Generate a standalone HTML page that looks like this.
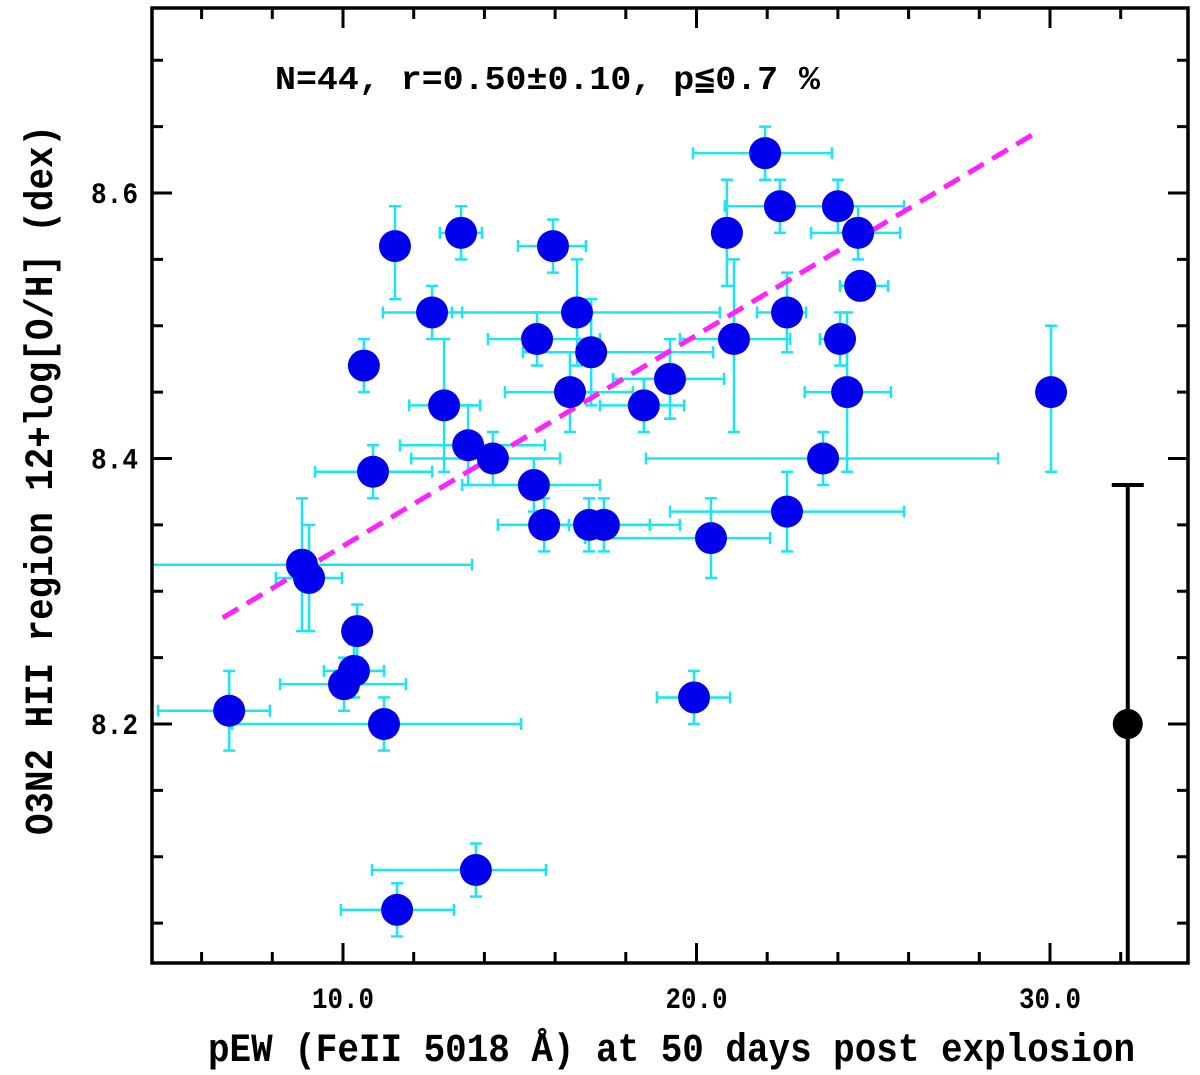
<!DOCTYPE html>
<html><head><meta charset="utf-8"><style>
html,body{margin:0;padding:0;background:#fff;}
svg text{font-family:"Liberation Mono","DejaVu Sans Mono",monospace;font-weight:bold;fill:#000;}
</style></head><body>
<svg id="chart" width="1200" height="1070" viewBox="0 0 1200 1070" xmlns="http://www.w3.org/2000/svg">
<g id="errs"></g>
<g id="pts"></g>
<g id="axes"></g>
<text x="275" y="89" font-size="33" textLength="545" lengthAdjust="spacingAndGlyphs">N=44, r=0.50±0.10, p≦0.7 %</text>
<text x="208" y="1061" font-size="40" textLength="927" lengthAdjust="spacingAndGlyphs">pEW (FeII 5018 Å) at 50 days post explosion</text>
<text transform="translate(52,835) rotate(-90)" font-size="40" textLength="710" lengthAdjust="spacingAndGlyphs">O3N2 HII region 12+log[O/H] (dex)</text>
</svg>
<script>
const xVals=[6.78,11.16,10.03,10.31,10.40,8.84,9.04,10.85,10.59,11.47,12.52,12.86,13.54,14.24,13.34,11.53,13.76,15.40,15.69,16.96,17.38,15.94,15.49,16.62,16.42,17.02,18.51,19.25,19.93,20.41,20.86,21.06,21.94,22.36,22.56,22.56,23.58,24.00,24.06,24.26,24.57,24.63,30.03];
const yVals=[8.21,8.20,8.23,8.24,8.27,8.32,8.31,8.39,8.47,8.56,8.51,8.44,8.41,8.40,8.57,8.06,8.09,8.38,8.35,8.35,8.35,8.56,8.49,8.51,8.45,8.48,8.44,8.46,8.22,8.34,8.57,8.49,8.63,8.59,8.51,8.36,8.40,8.59,8.49,8.45,8.57,8.53,8.45];
const xLo=[4.77,6.86,8.22,9.46,10.40,4.60,8.10,9.21,10.31,11.47,11.13,11.87,11.61,11.93,12.74,9.94,10.82,13.37,14.38,15.57,16.39,14.95,14.10,13.08,14.58,15.09,17.27,17.64,18.88,16.85,20.61,19.53,19.90,20.80,21.71,19.25,18.57,22.50,23.49,23.06,23.24,24.06,30.03];
const xHi=[7.93,15.04,11.78,11.16,10.40,13.65,9.97,12.52,10.90,11.47,13.37,13.88,15.71,16.14,13.93,13.14,15.74,17.27,16.99,18.68,19.53,16.87,17.27,20.66,18.20,20.47,19.65,20.78,20.95,22.08,21.15,22.65,23.83,23.86,23.10,25.87,28.53,25.87,24.40,25.50,25.76,25.42,30.03];
const yLo=[8.18,8.18,8.21,8.22,8.25,8.27,8.27,8.37,8.45,8.52,8.49,8.39,8.38,8.38,8.55,8.04,8.07,8.36,8.33,8.33,8.33,8.54,8.47,8.47,8.42,8.44,8.42,8.43,8.20,8.31,8.53,8.42,8.61,8.57,8.48,8.33,8.38,8.57,8.47,8.39,8.55,8.52,8.39];
const yHi=[8.24,8.22,8.25,8.26,8.29,8.37,8.35,8.41,8.49,8.59,8.53,8.49,8.44,8.42,8.59,8.08,8.11,8.40,8.37,8.37,8.37,8.58,8.51,8.55,8.48,8.52,8.46,8.49,8.24,8.37,8.61,8.55,8.65,8.61,8.54,8.39,8.42,8.61,8.51,8.51,8.59,8.54,8.50];
const fitX=[6.6,29.7];
const fitY=[8.28,8.647];
const refX=[32.2];
const refY=[8.20];
const refYHi=[8.38];
const xTickVals=[10,20,30];
const xTickLabels=["10.0","20.0","30.0"];
const yTickVals=[8.2,8.4,8.6];
const yTickLabels=["8.2","8.4","8.6"];

const L=152,R=1188,T=8,B=963;
const X=v=>343+(v-10)*35.35;
const Y=v=>193-(v-8.6)*1327.5;
const NS="http://www.w3.org/2000/svg";
function mk(tag,attrs,parent){const e=document.createElementNS(NS,tag);for(const k in attrs)e.setAttribute(k,attrs[k]);parent.appendChild(e);return e;}
const errs=document.getElementById('errs'),pts=document.getElementById('pts'),axes=document.getElementById('axes');
const ec='#19e6f0';
for(let i=0;i<xVals.length;i++){
  const cx=X(xVals[i]),cy=Y(yVals[i]);
  const g=mk('g',{},errs);
  
  
  const x1=Math.max(L,X(xLo[i])),x2=X(xHi[i]);
  if(x2-x1>2){
    mk('line',{x1:x1,y1:cy,x2:x2,y2:cy,stroke:ec,'stroke-width':2.5},g);
    if(X(xLo[i])>=L)mk('line',{x1:x1,y1:cy-6,x2:x1,y2:cy+6,stroke:ec,'stroke-width':2.5},g);
    mk('line',{x1:x2,y1:cy-6,x2:x2,y2:cy+6,stroke:ec,'stroke-width':2.5},g);
  }
  const y1=Y(yHi[i]),y2=Y(yLo[i]);
  mk('line',{x1:cx,y1:y1,x2:cx,y2:y2,stroke:ec,'stroke-width':2.5},g);
  mk('line',{x1:cx-6,y1:y1,x2:cx+6,y2:y1,stroke:ec,'stroke-width':2.5},g);
  mk('line',{x1:cx-6,y1:y2,x2:cx+6,y2:y2,stroke:ec,'stroke-width':2.5},g);
}
const fit=mk('line',{x1:X(fitX[0]),y1:Y(fitY[0]),x2:X(fitX[1]),y2:Y(fitY[1]),stroke:'#ff22ff','stroke-width':5,'stroke-dasharray':'18,10'},pts);


for(let i=0;i<xVals.length;i++){
  const c=mk('circle',{cx:X(xVals[i]),cy:Y(yVals[i]),r:16,fill:'#0000ee'},pts);
  
  
}
for(let i=0;i<refX.length;i++){
  const rx=X(refX[i]),ry=Y(refY[i]),rt=Y(refYHi[i]);
  const g=mk('g',{},pts);
  
  
  mk('line',{x1:rx,y1:rt,x2:rx,y2:B,stroke:'#000','stroke-width':4},g);
  mk('line',{x1:rx-16,y1:rt,x2:rx+16,y2:rt,stroke:'#000','stroke-width':4},g);
  mk('circle',{cx:rx,cy:ry,r:15,fill:'#000'},g);
}
const fr=mk('rect',{x:L,y:T,width:R-L,height:B-T,fill:'none',stroke:'#000','stroke-width':3.5},axes);


for(let v=6;v<=33;v+=2){
  const x=X(v);const len=(v%10===0)?20:11;
  mk('line',{x1:x,y1:B,x2:x,y2:B-len,stroke:'#000','stroke-width':3},axes);
  mk('line',{x1:x,y1:T,x2:x,y2:T+len,stroke:'#000','stroke-width':3},axes);
}
for(let k=0;k<15;k++){
  const v=8.05+k*0.05;const y=Y(v);if(y<T||y>B)continue;
  const len=(Math.round(v*100)%20===0)?20:11;
  mk('line',{x1:L,y1:y,x2:L+len,y2:y,stroke:'#000','stroke-width':3},axes);
  mk('line',{x1:R,y1:y,x2:R-len,y2:y,stroke:'#000','stroke-width':3},axes);
}
for(let i=0;i<xTickVals.length;i++){
  const t=mk('text',{x:X(xTickVals[i])-31,y:1008,'font-size':30,textLength:62,lengthAdjust:'spacingAndGlyphs'},document.getElementById('chart'));
  t.textContent=xTickLabels[i];
  
  
}
for(let i=0;i<yTickVals.length;i++){
  const t=mk('text',{x:91,y:Y(yTickVals[i])+10,'font-size':30,textLength:47,lengthAdjust:'spacingAndGlyphs'},document.getElementById('chart'));
  t.textContent=yTickLabels[i];
  
  
}
</script>
</body></html>
